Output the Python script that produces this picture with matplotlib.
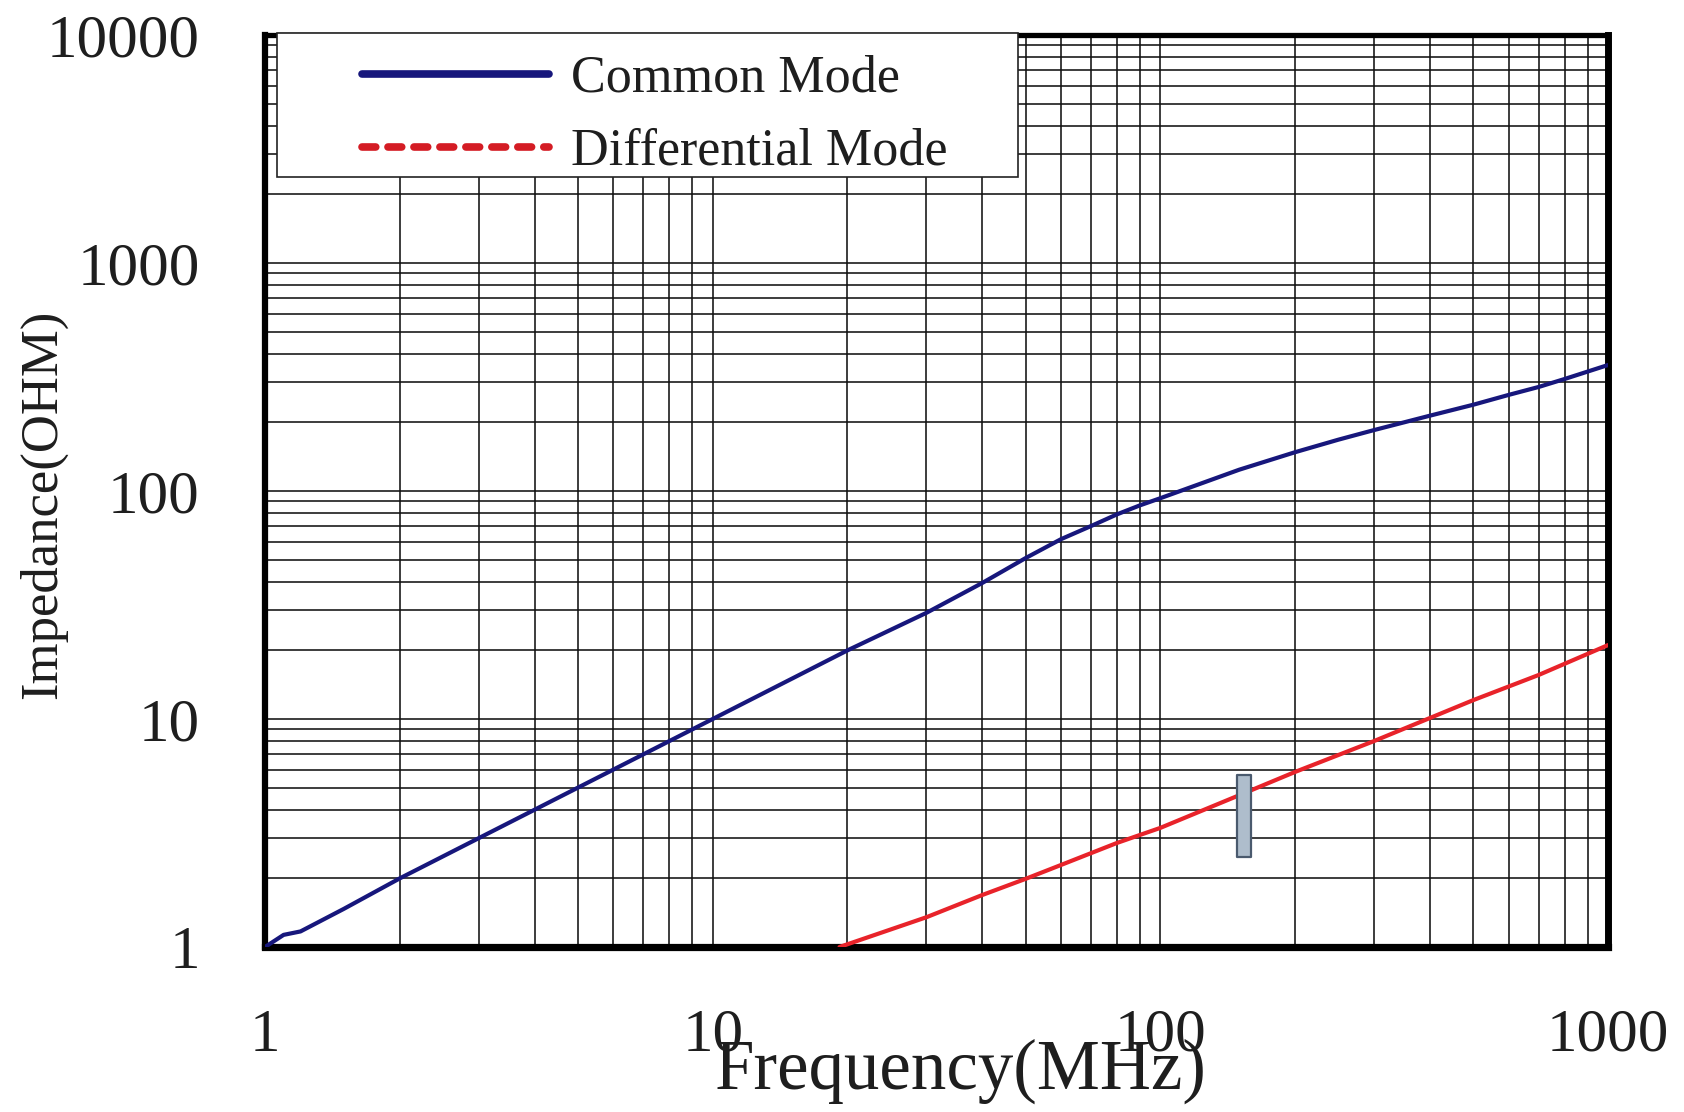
import matplotlib
matplotlib.use("Agg")
import matplotlib.pyplot as plt
from matplotlib.ticker import FixedLocator, FixedFormatter, LogLocator, NullFormatter
from matplotlib.lines import Line2D
from matplotlib.patches import Rectangle

# ---- data ----
cm_freq = [1.0, 1.1, 1.2, 1.5, 2, 3, 5, 10, 20, 30, 40, 50, 60, 70, 80, 90, 100,
           150, 200, 250, 300, 350, 400, 500, 600, 700, 800, 1000]
cm_imp = [1.0, 1.13, 1.17, 1.47, 2.0, 3.0, 5.0, 10.0, 20.0, 29.2, 39.5, 50.8, 61.5,
          70.2, 79, 86.5, 93, 124, 148, 168, 185, 200, 214, 239, 264, 286, 310, 357]

dm_freq = [19.2, 30, 40, 50, 60, 70, 80, 90, 100, 150, 200, 300, 400, 500, 700, 1000]
dm_imp = [1.0, 1.35, 1.69, 1.99, 2.29, 2.58, 2.86, 3.1, 3.33, 4.63, 5.86, 8.0, 10.1,
          12.1, 15.6, 21.1]

marker_freq = [148, 159]
marker_imp = [2.48, 5.68]

x_ticks = [1, 10, 100, 1000]
x_tick_labels = ["1", "10", "100", "1000"]
y_ticks = [1, 10, 100, 1000, 10000]
y_tick_labels = ["1", "10", "100", "1000", "10000"]

series_labels = ["Common Mode", "Differential Mode"]
x_title = "Frequency(MHz)"
y_title = "Impedance(OHM)"

plt.rcParams["font.family"] = ["Liberation Serif", "DejaVu Serif"]

fig = plt.figure(figsize=(16.84, 11.12), dpi=100)
ax = fig.add_axes([0.1574, 0.1484, 0.9549 - 0.1574, 0.9685 - 0.1484])

blue = "#17177c"
red = "#e8232a"
ax.plot(cm_freq, cm_imp, color=blue, lw=3.0, solid_capstyle="round",
        solid_joinstyle="round", zorder=3)
ax.plot(dm_freq, dm_imp, color=red, lw=3.0, solid_capstyle="round",
        solid_joinstyle="round", zorder=3)

ax.fill_between(marker_freq, marker_imp[0], marker_imp[1], facecolor="#aebdcc",
                edgecolor="#4a5a6e", lw=1.6, zorder=4)

ax.set_xscale("log")
ax.set_yscale("log")
ax.set_xlim(x_ticks[0], x_ticks[-1])
ax.set_ylim(y_ticks[0], y_ticks[-1])

ax.xaxis.set_major_locator(FixedLocator(x_ticks))
ax.xaxis.set_major_formatter(FixedFormatter(x_tick_labels))
ax.yaxis.set_major_locator(FixedLocator(y_ticks))
ax.yaxis.set_major_formatter(FixedFormatter(y_tick_labels))
for axis in (ax.xaxis, ax.yaxis):
    axis.set_minor_locator(LogLocator(base=10, subs=range(2, 10), numticks=20))
    axis.set_minor_formatter(NullFormatter())

ax.set_axisbelow(True)
ax.grid(True, which="both", color="#111111", lw=1.15)
ax.tick_params(which="both", length=0)
ax.tick_params(axis="y", pad=47, labelsize=44, labelcolor="#1e1e1e")
ax.tick_params(axis="x", pad=44, labelsize=44, labelcolor="#1e1e1e")

for side, w in (("left", 4.5), ("right", 5.0), ("top", 3.8), ("bottom", 5.2)):
    ax.spines[side].set_linewidth(w)
    ax.spines[side].set_color("black")

ax.set_xlabel(x_title, fontsize=51, color="#1e1e1e")
ax.xaxis.set_label_coords(0.518, -0.136)
ax.xaxis.label.set_va("center")
ax.set_ylabel(y_title, fontsize=38, color="#1e1e1e")
ax.yaxis.set_label_coords(-0.165, 0.485)
ax.yaxis.label.set_va("center")

# legend frame
ax.add_patch(Rectangle((0.009, 0.844), 0.552, 0.158, transform=ax.transAxes,
                       facecolor="white", edgecolor="#222222", lw=1.2, zorder=5,
                       clip_on=False))
handles = [Line2D([], [], color=blue, lw=5.5, solid_capstyle="round"),
           Line2D([], [], color="#d41c24", lw=5.5, linestyle=(0, (1.8, 1.6)),
                  dash_capstyle="round")]
leg = ax.legend(handles, series_labels, loc="center left",
                bbox_to_anchor=(0.053, 0.912), frameon=False, borderpad=0,
                fontsize=37.5, handlelength=3.58, handletextpad=0.42,
                labelspacing=0.48, labelcolor="#1e1e1e")
leg.set_zorder(6)

fig.savefig("out.png", dpi=100, facecolor="white")
